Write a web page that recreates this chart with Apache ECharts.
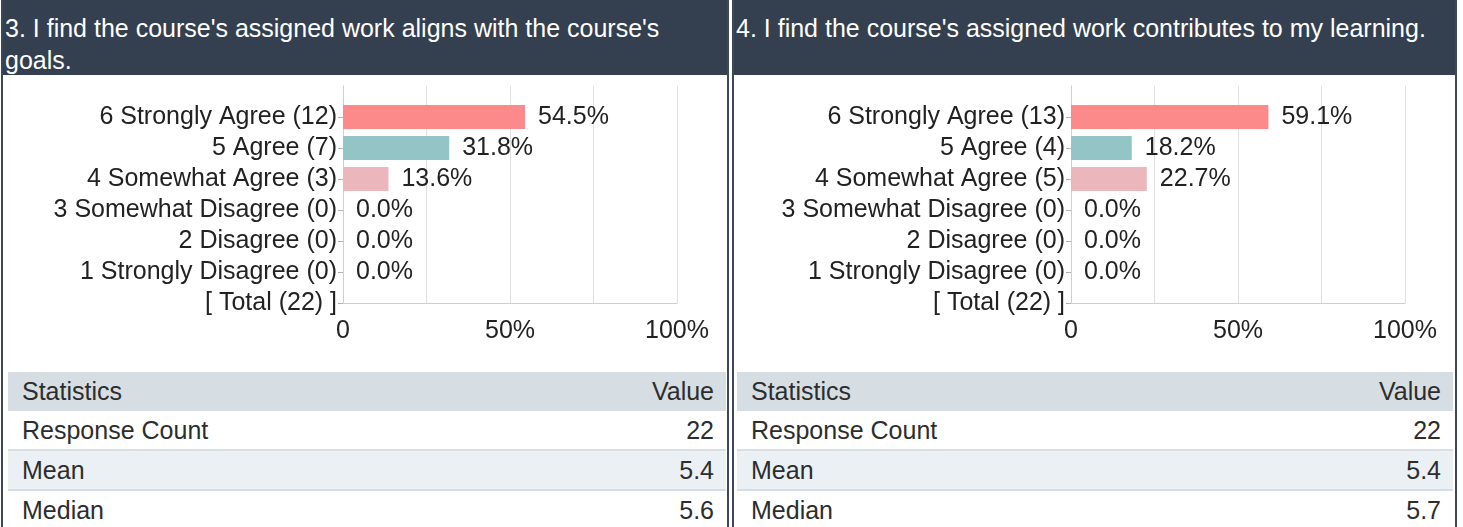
<!DOCTYPE html>
<html>
<head>
<meta charset="utf-8">
<script src="https://cdn.jsdelivr.net/npm/echarts@6.0.0/dist/echarts.min.js"></script>
<style>
  body { margin: 0; width: 1463px; height: 527px; overflow: hidden; background: #fff;
         font-family: 'Liberation Sans', Arial, sans-serif; }
  .panel { position: absolute; top: 0; height: 527px; box-sizing: border-box;
           border-left: 2px solid #3c4759; border-right: 2px solid #3c4759; }
  .head { background: #343f4f; color: #fff; font-size: 25px; line-height: 32px;
          height: 75px; box-sizing: border-box; padding: 12px 4px 0 2px; }
  table { position: absolute; top: 372px; border-collapse: collapse; font-size: 25px; color: #2d2d2d; }
  th, td { padding: 0 12px 0 14px; font-weight: normal; }
  th { background: #d7dee3; height: 39px; }
  td { height: 38px; border-bottom: 2px solid #d8dee3; }
  tr.alt td { background: #ebf0f4; }
  .l { text-align: left; }
  .r { text-align: right; }
  #chart { position: absolute; left: 0; top: 75px; width: 1463px; height: 297px; }
</style>
</head>
<body>
<div class="panel" style="left:1px;width:728px;">
  <div class="head" id="title1"></div>
  <table id="stats1" style="left:5px;width:718px;"></table>
</div>
<div class="panel" style="left:732px;width:725px;">
  <div class="head" id="title2"></div>
  <table id="stats2" style="left:3px;width:716px;"></table>
</div>
<div id="chart"></div>
<script>
// question texts
var title1 = "3. I find the course's assigned work aligns with the course's goals.";
var title2 = "4. I find the course's assigned work contributes to my learning.";

// answer categories, top to bottom
var categories = ['6 Strongly Agree', '5 Agree', '4 Somewhat Agree',
                  '3 Somewhat Disagree', '2 Disagree', '1 Strongly Disagree'];
var counts1 = [12, 7, 3, 0, 0, 0];
var counts2 = [13, 4, 5, 0, 0, 0];
var percent1 = [54.5, 31.8, 13.6, 0, 0, 0];
var percent2 = [59.1, 18.2, 22.7, 0, 0, 0];
var total1 = 22;
var total2 = 22;

// x axis tick labels
var xTickLabels = { 0: '0', 50: '50%', 100: '100%' };

// statistics tables
var statNames = ['Response Count', 'Mean', 'Median'];
var statValues1 = ['22', '5.4', '5.6'];
var statValues2 = ['22', '5.4', '5.7'];

var barColors = ['#fd8a8b', '#94c5c6', '#ebb7bc', '#cccccc', '#cccccc', '#cccccc'];
var FONT = "'Liberation Sans', Arial, sans-serif";

document.getElementById('title1').textContent = title1;
document.getElementById('title2').textContent = title2;

function fillTable(id, values) {
    var html = '<tr><th class="l">Statistics</th><th class="r">Value</th></tr>';
    statNames.forEach(function(name, i) {
        html += '<tr' + (i === 1 ? ' class="alt"' : '') + '><td class="l">' + name +
            '</td><td class="r">' + values[i] + '</td></tr>';
    });
    document.getElementById(id).innerHTML = html;
}
fillTable('stats1', statValues1);
fillTable('stats2', statValues2);

// leading empty slot so the first bar sits one step below the grid top
function axisLabels(counts, total) {
    var labels = [''];
    categories.forEach(function(c, i) { labels.push(c + ' (' + counts[i] + ')'); });
    labels.push('[ Total (' + total + ') ]');
    return labels;
}
function barData(values) {
    var data = ['-'];
    values.forEach(function(v, i) {
        data.push({ value: v, itemStyle: { color: barColors[i] } });
    });
    data.push('-');
    return data;
}

function xAxis(gridIndex) {
    return {
        type: 'value', gridIndex: gridIndex, min: 0, max: 100, interval: 25,
        axisLine: { show: true, lineStyle: { color: '#cfcfcf' } },
        axisTick: { show: false },
        splitLine: { lineStyle: { color: '#e0e0e0' } },
        axisLabel: {
            fontSize: 25, color: '#222', fontFamily: FONT, margin: 16,
            formatter: function(v) { return xTickLabels[v] || ''; }
        }
    };
}
function yAxis(gridIndex, labels) {
    return {
        type: 'category', gridIndex: gridIndex, inverse: true, boundaryGap: false,
        data: labels,
        axisLine: { show: true, lineStyle: { color: '#cfcfcf' } },
        axisTick: { show: true, length: 5, lineStyle: { color: '#b0b0b0' },
                    interval: function(i) { return i > 0; } },
        axisLabel: { fontSize: 25, color: '#222', fontFamily: FONT, margin: 6, interval: 0 },
        splitLine: { show: false }
    };
}
function barSeries(idx, values) {
    return {
        type: 'bar', xAxisIndex: idx, yAxisIndex: idx, barWidth: 24,
        data: barData(values),
        label: {
            show: true, position: 'right', distance: 13,
            fontSize: 25, color: '#222', fontFamily: FONT,
            formatter: function(p) { return p.value.toFixed(1) + '%'; }
        }
    };
}

var chart = echarts.init(document.getElementById('chart'));
chart.setOption({
    animation: false,
    grid: [
        { left: 343, top: 11, width: 334, height: 217 },
        { left: 1071, top: 11, width: 334, height: 217 }
    ],
    xAxis: [xAxis(0), xAxis(1)],
    yAxis: [yAxis(0, axisLabels(counts1, total1)), yAxis(1, axisLabels(counts2, total2))],
    series: [barSeries(0, percent1), barSeries(1, percent2)]
});
</script>
</body>
</html>
